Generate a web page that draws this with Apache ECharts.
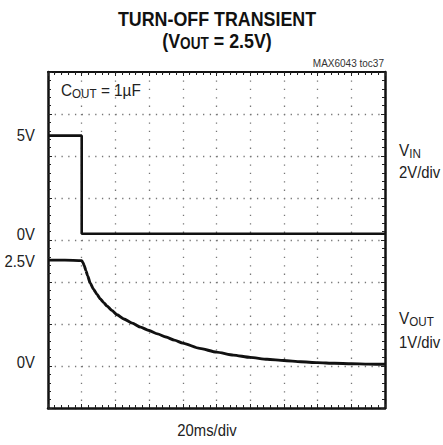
<!DOCTYPE html>
<html>
<head>
<meta charset="utf-8">
<script src="https://cdn.jsdelivr.net/npm/echarts@6/dist/echarts.min.js"></script>
<style>
  html, body { margin: 0; padding: 0; background: #fff; }
  #chart { width: 443px; height: 445px; }
</style>
</head>
<body>
<div id="chart"></div>
<script>
// time axis, ms (20ms/div, 10 divisions)
const timeTicks = [0, 20, 40, 60, 80, 100, 120, 140, 160, 180, 200]

// VIN trace (V): steps down at 20 ms
const vinTime = [0, 20, 20, 200]
const vinVolts = [4.67, 4.67, 0, 0]

// VOUT trace (V): decays after VIN is removed
const voutTime = [0, 10, 20, 20.8, 21.6, 22.5, 23.5, 25, 27, 29, 31, 33, 35, 38, 41, 45, 50, 55, 60, 65, 70, 75, 80, 90, 100, 110, 120, 130, 140, 150, 160, 170, 180, 190, 200]
const voutVolts = [2.52, 2.52, 2.51, 2.46, 2.38, 2.27, 2.15, 1.98, 1.83, 1.71, 1.6, 1.51, 1.43, 1.32, 1.22, 1.12, 1.02, 0.925, 0.845, 0.765, 0.69, 0.615, 0.545, 0.42, 0.33, 0.26, 0.205, 0.16, 0.13, 0.1, 0.08, 0.065, 0.055, 0.045, 0.04]

// level labels on the left
const levelLabels = ['5V', '0V', '2.5V', '0V']

const FONT = "'Liberation Sans', Arial, sans-serif"

const chart = echarts.init(document.getElementById('chart'), null, { renderer: 'svg' })

function borderAxis(extra) {
  return Object.assign({
    type: 'value',
    axisLine: { show: true, onZero: false, lineStyle: { color: '#111', width: 2.5 } },
    axisTick: { show: true, inside: true, length: 4, lineStyle: { color: '#222', width: 1 } },
    minorTick: { show: true, splitNumber: 5, length: 3, lineStyle: { color: '#222', width: 1 } },
    axisLabel: { show: false },
    splitLine: { show: false }
  }, extra)
}

function label(x, y, text, align) {
  return {
    type: 'text', x: x, y: y, scaleX: 0.9,
    style: { text: text, font: '16.5px ' + FONT, fill: '#222', align: align, verticalAlign: 'middle' }
  }
}

function subLabel(x, y, main, sub, extraText) {
  return {
    type: 'text', x: x, y: y, scaleX: 0.93,
    style: {
      text: '{a|' + main + '}{s|' + sub + '}' + (extraText ? '{a|' + extraText + '}' : ''),
      align: 'left', verticalAlign: 'middle',
      rich: {
        a: { font: '16.5px ' + FONT, fill: '#222', lineHeight: 20 },
        s: { font: '12.5px ' + FONT, fill: '#222', lineHeight: 12, verticalAlign: 'bottom' }
      }
    }
  }
}

const xBase = { min: timeTicks[0], max: timeTicks[timeTicks.length - 1], interval: timeTicks[1] - timeTicks[0] }

const option = {
  animation: false,
  grid: { left: 48, top: 72, width: 337, height: 336 },
  xAxis: [
    borderAxis(Object.assign({}, xBase, {
      position: 'bottom',
      splitLine: { show: true, lineStyle: { color: '#777', width: 1.3, type: [1.3, 7.1] } }
    })),
    borderAxis(Object.assign({}, xBase, { position: 'top', axisLine: { show: true, onZero: false, lineStyle: { color: '#111', width: 2 } } }))
  ],
  yAxis: [
    borderAxis({
      min: -1, max: 7, interval: 1, position: 'left',
      splitLine: { show: true, lineStyle: { color: '#777', width: 1.3, type: [1.3, 5.44] } }
    }),
    borderAxis({ min: -1, max: 7, interval: 1, position: 'right' }),
    { type: 'value', min: -8.3, max: 7.7, show: false }
  ],
  series: [
    {
      name: 'VIN',
      type: 'line',
      xAxisIndex: 0,
      yAxisIndex: 2,
      data: vinTime.map((t, i) => [t, vinVolts[i]]),
      showSymbol: false,
      symbol: 'none',
      lineStyle: { color: '#111', width: 2.6 }
    },
    {
      name: 'VOUT',
      type: 'line',
      xAxisIndex: 0,
      yAxisIndex: 0,
      data: voutTime.map((t, i) => [t, voutVolts[i]]),
      smooth: 0.2,
      smoothMonotone: 'x',
      showSymbol: false,
      symbol: 'none',
      lineStyle: { color: '#111', width: 2.9, join: 'round' }
    }
  ],
  graphic: [
    {
      type: 'text', x: 217, y: 18, scaleX: 0.85,
      style: { text: 'TURN-OFF TRANSIENT', font: 'bold 21px ' + FONT, fill: '#111', align: 'center', verticalAlign: 'middle' }
    },
    {
      type: 'text', x: 217, y: 40, scaleX: 0.85,
      style: {
        text: '{a|(V}{s|OUT}{a| = 2.5V)}',
        align: 'center', verticalAlign: 'middle',
        rich: {
          a: { font: 'bold 21px ' + FONT, fill: '#111', lineHeight: 24 },
          s: { font: 'bold 16px ' + FONT, fill: '#111', lineHeight: 14, verticalAlign: 'bottom' }
        }
      }
    },
    {
      type: 'text', x: 384, y: 63,
      style: { text: 'MAX6043 toc37', font: '10px ' + FONT, fill: '#333', align: 'right', verticalAlign: 'middle' }
    },
    subLabel(61, 90, 'C', 'OUT', ' = 1µF'),
    label(35, 135, levelLabels[0], 'right'),
    label(35, 234, levelLabels[1], 'right'),
    label(35, 261, levelLabels[2], 'right'),
    label(35, 362, levelLabels[3], 'right'),
    subLabel(399, 150, 'V', 'IN'),
    label(399, 172, '2V/div', 'left'),
    subLabel(399, 318, 'V', 'OUT'),
    label(399, 342, '1V/div', 'left'),
    label(207, 430, '20ms/div', 'center')
  ]
}

chart.setOption(option)
window.addEventListener('resize', () => chart.resize())
</script>
</body>
</html>
